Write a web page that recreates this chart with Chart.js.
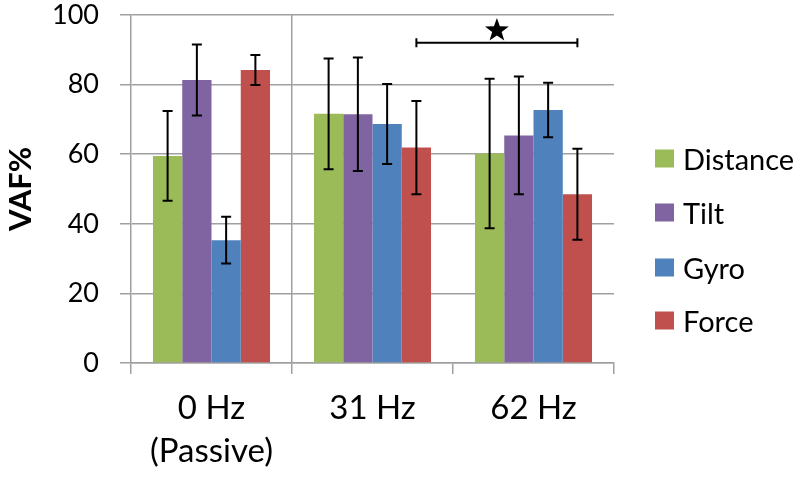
<!DOCTYPE html>
<html>
<head>
<meta charset="utf-8">
<script src="https://cdn.jsdelivr.net/npm/chart.js@4.4.0/dist/chart.umd.min.js"></script>
<style>
  html, body { margin: 0; padding: 0; background: #fff; }
  #wrap { position: relative; width: 800px; height: 483px; }
  #legend { position: absolute; left: 655px; top: 0; font-family: Lato, sans-serif; font-size: 29px; color: #000; }
  .legend-item { position: absolute; left: 0; display: flex; align-items: center; white-space: nowrap; transform: translateY(-50%); }
  .legend-item .swatch { width: 19px; height: 18px; margin-right: 9px; }
</style>
</head>
<body>
<div id="wrap">
  <canvas id="vafChart" width="800" height="483"></canvas>
  <div id="legend"></div>
</div>
<script>
// categories and series (VAF %, mean and error)
const categories = [['0 Hz', '(Passive)'], '31 Hz', '62 Hz'];
const seriesNames = ['Distance', 'Tilt', 'Gyro', 'Force'];
const distance = [59.5, 71.6, 60.2];
const distanceErr = [12.9, 15.9, 21.5];
const tilt = [81.3, 71.5, 65.4];
const tiltErr = [10.2, 16.3, 16.9];
const gyro = [35.3, 68.7, 72.7];
const gyroErr = [6.7, 11.5, 7.8];
const force = [84.2, 61.9, 48.5];
const forceErr = [4.3, 13.4, 13.1];
const yTicks = [0, 20, 40, 60, 80, 100];
// significance bracket: Force 31 Hz vs Force 62 Hz
const sigSeries = 3;
const sigFrom = 1;
const sigTo = 2;
const sigLevel = 92;
const starLevel = 96;

const colors = ['#9BBB59', '#8064A2', '#4F81BD', '#C0504D'];
const values = [distance, tilt, gyro, force];
const errors = [distanceErr, tiltErr, gyroErr, forceErr];
const gridGray = '#a0a0a0';

// error bars + significance star
const extras = {
  id: 'extras',
  afterDatasetsDraw(chart) {
    const ctx = chart.ctx;
    const y = chart.scales.y;
    ctx.save();
    ctx.strokeStyle = '#000';
    ctx.lineWidth = 2;
    values.forEach((vals, d) => {
      const meta = chart.getDatasetMeta(d);
      meta.data.forEach((bar, i) => {
        const top = y.getPixelForValue(vals[i] + errors[d][i]);
        const bot = y.getPixelForValue(vals[i] - errors[d][i]);
        ctx.beginPath();
        ctx.moveTo(bar.x, top); ctx.lineTo(bar.x, bot);
        ctx.moveTo(bar.x - 5, top); ctx.lineTo(bar.x + 5, top);
        ctx.moveTo(bar.x - 5, bot); ctx.lineTo(bar.x + 5, bot);
        ctx.stroke();
      });
    });

    const meta = chart.getDatasetMeta(sigSeries);
    const x1 = meta.data[sigFrom].x;
    const x2 = meta.data[sigTo].x;
    const ly = y.getPixelForValue(sigLevel);
    ctx.beginPath();
    ctx.moveTo(x1, ly); ctx.lineTo(x2, ly);
    ctx.moveTo(x1, ly - 4.5); ctx.lineTo(x1, ly + 4.5);
    ctx.moveTo(x2, ly - 4.5); ctx.lineTo(x2, ly + 4.5);
    ctx.stroke();

    // five-point star
    const cx = (x1 + x2) / 2;
    const cy = y.getPixelForValue(starLevel);
    const R = 12.5, r = 5;
    ctx.fillStyle = '#000';
    ctx.beginPath();
    for (let k = 0; k < 10; k++) {
      const a = -Math.PI / 2 + k * Math.PI / 5;
      const rad = k % 2 === 0 ? R : r;
      const px = cx + rad * Math.cos(a);
      const py = cy + 1.5 + rad * Math.sin(a);
      if (k === 0) ctx.moveTo(px, py); else ctx.lineTo(px, py);
    }
    ctx.closePath();
    ctx.fill();
    ctx.restore();
  }
};

const chart = new Chart(document.getElementById('vafChart').getContext('2d'), {
  type: 'bar',
  data: {
    labels: categories,
    datasets: seriesNames.map((name, d) => ({
      label: name,
      data: values[d],
      backgroundColor: colors[d],
      borderWidth: 0,
      barPercentage: 1.0,
      categoryPercentage: 0.727
    }))
  },
  options: {
    responsive: false,
    animation: false,
    layout: { padding: { top: 15, right: 186, left: 0, bottom: 0 } },
    plugins: {
      legend: { display: false },
      tooltip: { enabled: false }
    },
    scales: {
      x: {
        afterFit: (scale) => { scale.height = 120; },
        grid: {
          offset: true,
          color: (c) => (c.index === 1 ? gridGray : 'rgba(0,0,0,0)'),
          tickColor: gridGray,
          lineWidth: 1.5,
          tickLength: 11
        },
        border: { display: true, color: gridGray, width: 1.5 },
        ticks: {
          color: '#000',
          padding: 13,
          font: { family: 'Lato', size: 33, lineHeight: 1.3 }
        }
      },
      y: {
        min: 0,
        max: 100,
        afterFit: (scale) => { scale.width = 131; scale.paddingTop = 0; scale.paddingBottom = 0; },
        afterBuildTicks: (scale) => { scale.ticks = yTicks.map(v => ({ value: v })); },
        grid: { color: gridGray, lineWidth: 1.5, tickLength: 11 },
        border: { display: true, color: gridGray, width: 1.5 },
        ticks: {
          color: '#000',
          padding: 21,
          font: { family: 'Lato', size: 27 }
        },
        title: {
          display: true,
          text: 'VAF%',
          color: '#000',
          padding: { top: 2, bottom: 0 },
          font: { family: 'Lato', size: 31, weight: 'bold' }
        }
      }
    }
  },
  plugins: [extras]
});

// HTML legend
const legendEl = document.getElementById('legend');
const legendY = [158, 212, 267, 320];
seriesNames.forEach((name, d) => {
  const item = document.createElement('div');
  item.className = 'legend-item';
  item.style.top = legendY[d] + 'px';
  item.innerHTML = '<span class="swatch" style="background:' + colors[d] + '"></span><span>' + name + '</span>';
  legendEl.appendChild(item);
});
</script>
</body>
</html>
